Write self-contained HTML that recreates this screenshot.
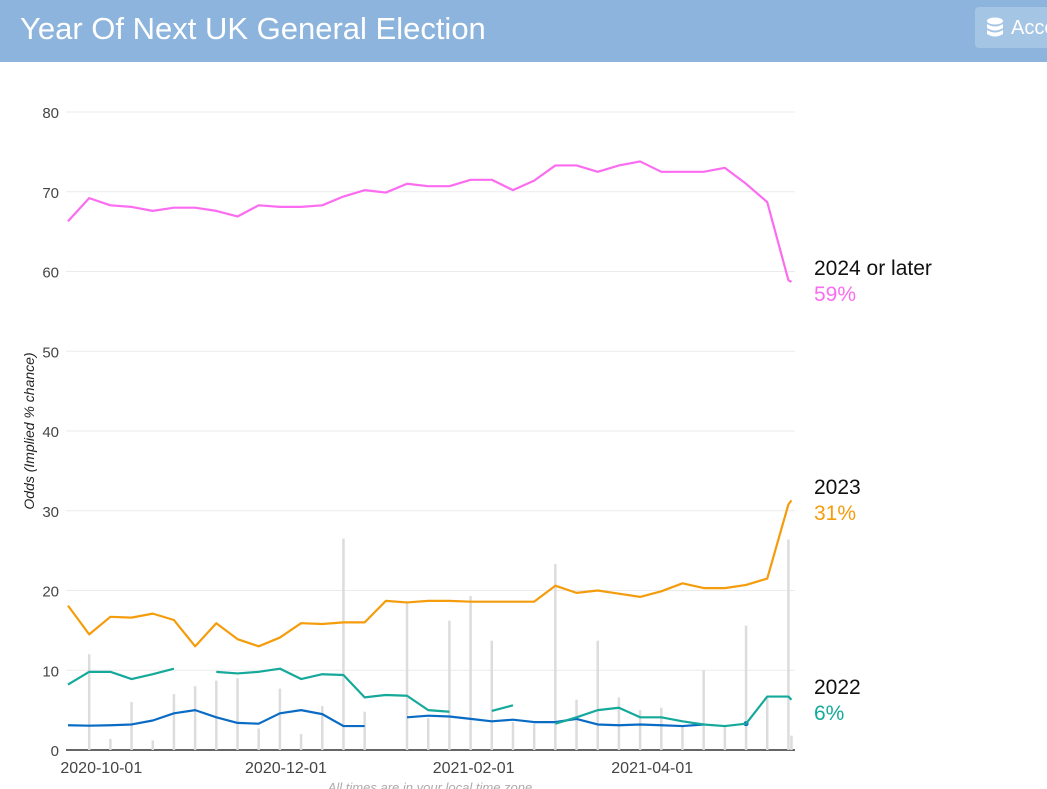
<!DOCTYPE html>
<html><head><meta charset="utf-8"><style>
html,body{margin:0;padding:0;width:1047px;height:789px;overflow:hidden;background:#fff;font-family:"Liberation Sans",sans-serif}
#hdr{position:absolute;left:0;top:0;width:1047px;height:62px;background:#8cb4dd}
#title{position:absolute;left:20px;top:11px;color:#fff;font-size:31px;white-space:nowrap}
#btn{position:absolute;left:975px;top:7px;width:90px;height:41px;background:#a5c5e4;border-radius:4px;color:#fff;font-size:20px}
svg{position:absolute;left:0;top:0}
</style></head><body>
<div id="hdr">
<div id="title">Year Of Next UK General Election</div>
<div id="btn">
<svg width="20" height="22" style="left:10px;top:10px"><ellipse cx="10" cy="4" rx="8" ry="3.5" fill="#fff"/><path d="M2 7 q8 5 16 0 v4 q-8 5 -16 0z M2 13 q8 5 16 0 v4 q-8 5 -16 0z" fill="#fff"/></svg>
<span style="position:absolute;left:36px;top:10px">Access</span></div>
</div>
<svg id="chart" width="1047" height="789" style="top:0"></svg>
<script>
const dates=["2020-09-20","2020-09-27","2020-10-04","2020-10-11","2020-10-18","2020-10-25","2020-11-01","2020-11-08","2020-11-15","2020-11-22","2020-11-29","2020-12-06","2020-12-13","2020-12-20","2020-12-27","2021-01-03","2021-01-10","2021-01-17","2021-01-24","2021-01-31","2021-02-07","2021-02-14","2021-02-21","2021-02-28","2021-03-07","2021-03-14","2021-03-21","2021-03-28","2021-04-04","2021-04-11","2021-04-18","2021-04-25","2021-05-02","2021-05-09","2021-05-16","2021-05-17"];
const s2024=[66.3,69.2,68.3,68.1,67.6,68.0,68.0,67.6,66.9,68.3,68.1,68.1,68.3,69.4,70.2,69.9,71.0,70.7,70.7,71.5,71.5,70.2,71.4,73.3,73.3,72.5,73.3,73.8,72.5,72.5,72.5,73.0,71.0,68.7,58.9,58.7];
const s2023=[18.1,14.5,16.7,16.6,17.1,16.3,13.0,15.9,13.9,13.0,14.1,15.9,15.8,16.0,16.0,18.7,18.5,18.7,18.7,18.6,18.6,18.6,18.6,20.6,19.7,20.0,19.6,19.2,19.9,20.9,20.3,20.3,20.7,21.5,30.8,31.3];
const s2022=[8.2,9.8,9.8,8.9,9.5,10.2,null,9.8,9.6,9.8,10.2,8.9,9.5,9.4,6.6,6.9,6.8,5.0,4.8,null,4.9,5.6,null,3.3,4.1,5.0,5.3,4.1,4.1,3.6,3.2,3.0,3.3,6.7,6.7,6.3];
const s2021=[3.1,3.05,3.1,3.2,3.7,4.6,5.0,4.1,3.4,3.3,4.6,5.0,4.5,3.0,3.0,null,4.1,4.3,4.2,3.9,3.6,3.8,3.5,3.5,3.9,3.2,3.1,3.2,3.1,3.0,3.2,null,3.3,null,null,null];
const volume=[0,12,1.4,6,1.2,7,8,8.7,9,2.7,7.7,2,5.5,26.5,4.8,0,18.5,4,16.2,19.3,13.7,3.5,3.3,23.3,6.3,13.7,6.6,5,5.3,3,10,3,15.6,6.5,26.4,1.8];
const yTicks=[0,10,20,30,40,50,60,70,80];
const xTicks=["2020-10-01","2020-12-01","2021-02-01","2021-04-01"];
const NS="http://www.w3.org/2000/svg",svg=document.getElementById('chart');
const t0=Date.parse("2020-09-20");
const X=d=>68+(Date.parse(d)-t0)/864e5*3.027;
const Y=v=>750-v*7.975;
function mk(tag,at,parent){const e=document.createElementNS(NS,tag);for(const k in at)e.setAttribute(k,at[k]);(parent||svg).appendChild(e);return e;}
yTicks.forEach(v=>{
 const g=mk('line',{x1:66,x2:795,y1:Y(v),y2:Y(v),stroke:v?'#ebebeb':'#333','stroke-width':v?1:1.5});
 
 
 const t=mk('text',{x:59,y:Y(v)+6,'text-anchor':'end','font-size':15,fill:'#444'});t.textContent=v;
 
 
});
xTicks.forEach(d=>{
 const t=mk('text',{x:X(d),y:773,'text-anchor':'middle','font-size':16,fill:'#444'});t.textContent=d;
 
 
});
dates.forEach((d,i)=>{ if(volume[i]>0){
 const b=mk('line',{x1:X(d),x2:X(d),y1:Y(0),y2:Y(volume[i]),stroke:'#dcdcdc','stroke-width':2.5});
 
 
}});
function series(vals,color,name){
 let segs=[],cur=[];
 vals.forEach((v,i)=>{if(v==null){if(cur.length)segs.push(cur);cur=[];}else cur.push([X(dates[i]),Y(v)]);});
 if(cur.length)segs.push(cur);
 segs.forEach(s=>{
  if(s.length==1){const c=mk('circle',{cx:s[0][0],cy:s[0][1],r:2.5,fill:color});
   
   }
  else{const p=mk('polyline',{points:s.map(q=>q.join(',')).join(' '),fill:'none',stroke:color,'stroke-width':2.2,'stroke-linejoin':'round'});
   
   }
 });
}
series(s2021,'#0a6bc4','series-2021');
series(s2022,'#14a99a','series-2022');
series(s2023,'#f59c0c','series-2023');
series(s2024,'#fb6cf0','series-2024-or-later');
function lab(txt,y,col,name){const t=mk('text',{x:814,y:y,'font-size':21,fill:col});t.textContent=txt;
 
 }
lab('2024 or later',275,'#111','label-2024-or-later');lab('59%',301,'#fb6cf0','value-2024-or-later');
lab('2023',494,'#111','label-2023');lab('31%',520,'#f59c0c','value-2023');
lab('2022',694,'#111','label-2022');lab('6%',720,'#14a99a','value-2022');
const yt=mk('text',{transform:'translate(34,431) rotate(-90)','text-anchor':'middle','font-size':14,'font-style':'italic',fill:'#222'});yt.textContent='Odds (Implied % chance)';


const ft=mk('text',{x:430,y:792,'text-anchor':'middle','font-size':13,'font-style':'italic',fill:'#aaa'});ft.textContent='All times are in your local time zone';


</script>
</body></html>
